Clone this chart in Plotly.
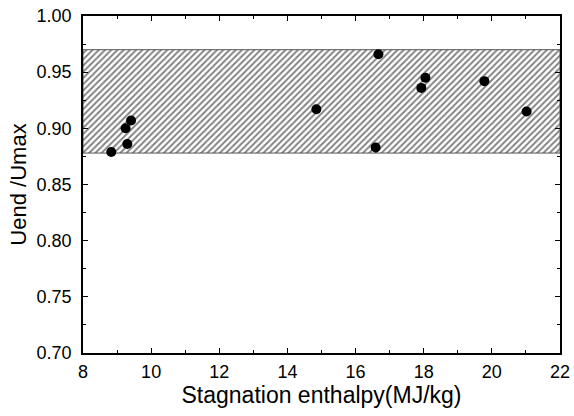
import plotly.graph_objects as go

# Data
enthalpy = [8.83, 9.25, 9.30, 9.41, 14.85, 16.59, 16.67, 17.93, 18.05, 19.78, 21.02]
ratio = [0.879, 0.900, 0.886, 0.907, 0.917, 0.883, 0.966, 0.936, 0.945, 0.942, 0.915]
band_low = 0.878
band_high = 0.970
x_range = [8, 22]
y_range = [0.70, 1.00]
x_ticks = [8, 10, 12, 14, 16, 18, 20, 22]
y_ticks = [0.70, 0.75, 0.80, 0.85, 0.90, 0.95, 1.00]

FONT = "Liberation Sans, Arial, sans-serif"

fig = go.Figure()

# Hatched band
fig.add_trace(go.Scatter(
    x=[x_range[0], x_range[1], x_range[1], x_range[0], x_range[0]],
    y=[band_low, band_low, band_high, band_high, band_low],
    mode="lines",
    fill="toself",
    fillcolor="white",
    fillpattern=dict(shape="/", fgcolor="black", bgcolor="white", size=4.4, solidity=0.42),
    line=dict(color="#555555", width=1),
    hoverinfo="skip",
    showlegend=False,
))

fig.add_trace(go.Scatter(
    x=enthalpy, y=ratio, mode="markers",
    marker=dict(color="black", size=10),
    showlegend=False,
))

axis_common = dict(
    showline=True, linecolor="black", linewidth=1.5, mirror="ticks",
    ticks="inside", ticklen=5, tickwidth=1, tickcolor="black",
    showgrid=False, zeroline=False, automargin=False,
    tickfont=dict(family=FONT, size=18, color="black"),
)

fig.update_xaxes(
    range=x_range, tickvals=x_ticks,
    ticktext=[str(v) for v in x_ticks],
    ticklabelstandoff=2,
    minor=dict(ticks="inside", ticklen=3, dtick=1, tickcolor="black"),
    title=dict(text="Stagnation enthalpy(MJ/kg)", font=dict(family=FONT, size=23, color="black"), standoff=4),
    **axis_common,
)
fig.update_yaxes(
    range=y_range, tickvals=y_ticks,
    ticktext=[f"{v:.2f}" for v in y_ticks],
    ticklabelstandoff=6,
    minor=dict(ticks="inside", ticklen=3, dtick=0.025, tickcolor="black"),
    title=dict(text="Uend /Umax", font=dict(family=FONT, size=22, color="black"), standoff=4),
    **axis_common,
)

fig.update_layout(
    width=574, height=416,
    margin=dict(l=83, r=14, t=16, b=63),
    plot_bgcolor="white", paper_bgcolor="white",
)

fig.write_html("out.html", config={"displayModeBar": False},
               post_script="document.body.style.margin='0';")
